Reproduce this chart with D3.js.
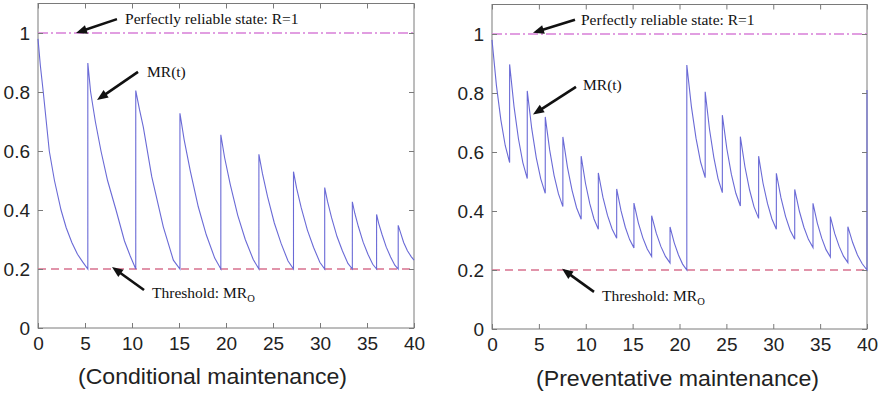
<!DOCTYPE html>
<html>
<head>
<meta charset="utf-8">
<script src="https://cdn.jsdelivr.net/npm/d3@7"></script>
<style>
  body { margin: 0; background: #fff; }
  svg { display: block; }
  .tick text { font-family: "Liberation Sans Narrow", "Arial Narrow", "Liberation Sans", Arial, sans-serif; font-size: 19px; fill: #222; }
  .note { font-family: "Liberation Serif", "Times New Roman", serif; font-size: 15.5px; fill: #111; }
  .title { font-family: "Liberation Sans", Arial, sans-serif; font-size: 22px; fill: #222; }
</style>
</head>
<body>
<div id="chart"></div>
<script>
// axis ticks
const xTicks = [0, 5, 10, 15, 20, 25, 30, 35, 40];
const yTicks = [0, 0.2, 0.4, 0.6, 0.8, 1];
const yTickLabels = ["0", "0.2", "0.4", "0.6", "0.8", "1"];

// reference levels
const reliableLevel = 1;
const thresholdLevel = 0.2;

const panelTitles = ["(Conditional maintenance)", "(Preventative maintenance)"];

// MR(t): [t, MR]
const conditionalMR = [
  [0, 0.98], [0.25, 0.89], [0.56, 0.8], [1.2, 0.6], [1.75, 0.5], [2.45, 0.4], [3.0, 0.34], [3.6, 0.29], [4.2, 0.25], [4.75, 0.224], [5.3, 0.2],
  [5.3, 0.898], [5.6, 0.8], [6.1, 0.7], [6.7, 0.6], [7.4, 0.5], [8.3, 0.4], [9.2, 0.295], [9.8, 0.245], [10.4, 0.2],
  [10.4, 0.805], [10.8, 0.74], [11.2, 0.682], [12.1, 0.513], [13.33, 0.343], [14.4, 0.23], [15.1, 0.2],
  [15.1, 0.728], [15.55, 0.638], [16.2, 0.533], [17.05, 0.411], [17.9, 0.316], [18.8, 0.237], [19.45, 0.2],
  [19.45, 0.655], [19.85, 0.578], [20.45, 0.487], [21.25, 0.382], [22.05, 0.3], [22.9, 0.232], [23.5, 0.2],
  [23.5, 0.589], [23.88, 0.523], [24.42, 0.445], [25.14, 0.356], [25.87, 0.286], [26.6, 0.227], [27.18, 0.2],
  [27.18, 0.53], [27.51, 0.474], [28.0, 0.408], [28.66, 0.332], [29.32, 0.273], [29.98, 0.223], [30.5, 0.2],
  [30.5, 0.476], [30.8, 0.429], [31.23, 0.374], [31.81, 0.31], [32.39, 0.261], [32.97, 0.219], [33.44, 0.2],
  [33.44, 0.428], [33.7, 0.389], [34.08, 0.344], [34.59, 0.291], [35.1, 0.25], [35.61, 0.216], [36.02, 0.2],
  [36.02, 0.385], [36.25, 0.354], [36.6, 0.317], [37.05, 0.274], [37.51, 0.241], [37.96, 0.213], [38.32, 0.2],
  [38.32, 0.348], [38.6, 0.32], [38.9, 0.29], [39.3, 0.262], [39.7, 0.242], [40, 0.23]
];

const preventiveMR = [
  [0, 0.98], [0.47, 0.826], [0.94, 0.71], [1.41, 0.622], [1.88, 0.564],
  [1.88, 0.897], [2.35, 0.754], [2.82, 0.645], [3.29, 0.564], [3.76, 0.51],
  [3.76, 0.807], [4.24, 0.679], [4.72, 0.581], [5.2, 0.509], [5.68, 0.46],
  [5.68, 0.719], [6.15, 0.607], [6.62, 0.521], [7.09, 0.458], [7.56, 0.415],
  [7.56, 0.651], [8.05, 0.548], [8.54, 0.47], [9.02, 0.411], [9.51, 0.372],
  [9.51, 0.586], [9.97, 0.494], [10.43, 0.425], [10.88, 0.373], [11.34, 0.338],
  [11.34, 0.529], [11.83, 0.447], [12.32, 0.385], [12.81, 0.339], [13.3, 0.308],
  [13.3, 0.475], [13.76, 0.401], [14.22, 0.345], [14.68, 0.303], [15.14, 0.275],
  [15.14, 0.427], [15.61, 0.36], [16.09, 0.309], [16.56, 0.271], [17.03, 0.246],
  [17.03, 0.384], [17.52, 0.325], [18.01, 0.28], [18.5, 0.246], [18.99, 0.224],
  [18.99, 0.346], [19.44, 0.292], [19.89, 0.251], [20.33, 0.22], [20.78, 0.2],
  [20.78, 0.895], [21.27, 0.754], [21.76, 0.647], [22.25, 0.566], [22.74, 0.513],
  [22.74, 0.804], [23.2, 0.677], [23.66, 0.582], [24.11, 0.51], [24.57, 0.462],
  [24.57, 0.725], [25.05, 0.611], [25.53, 0.525], [26.01, 0.46], [26.49, 0.417],
  [26.49, 0.652], [26.98, 0.55], [27.47, 0.472], [27.95, 0.414], [28.44, 0.375],
  [28.44, 0.586], [28.91, 0.494], [29.39, 0.425], [29.86, 0.373], [30.33, 0.338],
  [30.33, 0.528], [30.82, 0.445], [31.31, 0.382], [31.8, 0.335], [32.29, 0.304],
  [32.29, 0.473], [32.78, 0.4], [33.27, 0.345], [33.75, 0.304], [34.24, 0.276],
  [34.24, 0.426], [34.7, 0.359], [35.17, 0.308], [35.63, 0.269], [36.09, 0.244],
  [36.09, 0.381], [36.56, 0.323], [37.03, 0.28], [37.49, 0.247], [37.96, 0.225],
  [37.96, 0.347], [38.47, 0.293], [38.98, 0.251], [39.49, 0.221], [40, 0.2],
  [40, 0.81]
];

// annotation texts and anchors in data units: tail, head, text start
const noteTexts = ["Perfectly reliable state: R=1", "MR(t)", "Threshold: MR"];
const noteSub = "O";
const conditionalNotes = [
  { tail: [8.4, 1.047], head: [4.04, 1.0], text: [9.26, 1.03] },
  { tail: [10.64, 0.868], head: [6.28, 0.773], text: [11.6, 0.851] },
  { tail: [11.28, 0.129], head: [7.87, 0.207], text: [12.13, 0.102] }
];
const preventiveNotes = [
  { tail: [8.85, 1.048], head: [4.37, 1.004], text: [9.49, 1.032] },
  { tail: [8.96, 0.821], head: [4.37, 0.727], text: [9.71, 0.811] },
  { tail: [10.88, 0.126], head: [7.47, 0.204], text: [11.73, 0.096] }
];

const W = 880, H = 395;
const svg = d3.select("#chart").append("svg").attr("width", W).attr("height", H);

const panels = [
  { x0: 38, x1: 414, y0: 328, y1: 3.5, data: conditionalMR, notes: conditionalNotes,
    title: panelTitles[0], titleX: 212.5, titleY: 384, titleW: 269 },
  { x0: 492, x1: 867, y0: 329, y1: 4.5, data: preventiveMR, notes: preventiveNotes,
    title: panelTitles[1], titleX: 677.5, titleY: 386, titleW: 283 }
];

panels.forEach(function(p) {
  var x = d3.scaleLinear().domain([0, 40]).range([p.x0, p.x1]);
  var y = d3.scaleLinear().domain([0, 1.1]).range([p.y0, p.y1]);
  var g = svg.append("g");

  // frame
  g.append("rect")
    .attr("x", p.x0).attr("y", p.y1)
    .attr("width", p.x1 - p.x0).attr("height", p.y0 - p.y1)
    .attr("fill", "none").attr("stroke", "#7a7a7a").attr("stroke-width", 1);

  // reference lines
  g.append("line")
    .attr("x1", x(0)).attr("x2", x(40))
    .attr("y1", y(reliableLevel)).attr("y2", y(reliableLevel))
    .attr("stroke", "#d77fd7").attr("stroke-width", 1.3)
    .attr("stroke-dasharray", "10,3,2,3");
  g.append("line")
    .attr("x1", x(0)).attr("x2", x(40))
    .attr("y1", y(thresholdLevel)).attr("y2", y(thresholdLevel))
    .attr("stroke", "#d8728e").attr("stroke-width", 1.3)
    .attr("stroke-dasharray", "8,5");

  // MR(t)
  var line = d3.line()
    .x(function(d) { return x(d[0]); })
    .y(function(d) { return y(d[1]); });
  g.append("path")
    .datum(p.data)
    .attr("d", line)
    .attr("fill", "none")
    .attr("stroke", "#6a6ad6")
    .attr("stroke-width", 1.1);

  // axes, ticks pointing inward on all sides
  var ax = g.append("g").attr("transform", "translate(0," + p.y0 + ")")
    .call(d3.axisBottom(x).tickValues(xTicks).tickSizeInner(-5).tickSizeOuter(0).tickPadding(9));
  var ay = g.append("g").attr("transform", "translate(" + p.x0 + ",0)")
    .call(d3.axisLeft(y).tickValues(yTicks).tickSizeInner(-5).tickSizeOuter(0).tickPadding(8)
      .tickFormat(function(d, i) { return yTickLabels[i]; }));
  var at = g.append("g").attr("transform", "translate(0," + p.y1 + ")")
    .call(d3.axisTop(x).tickValues(xTicks).tickSizeInner(-5).tickSizeOuter(0).tickFormat(""));
  var ar = g.append("g").attr("transform", "translate(" + p.x1 + ",0)")
    .call(d3.axisRight(y).tickValues(yTicks).tickSizeInner(-5).tickSizeOuter(0).tickFormat(""));
  [ax, ay, at, ar].forEach(function(a) {
    a.select(".domain").remove();
    a.selectAll(".tick line").attr("stroke", "#7a7a7a");
    a.attr("font-family", null).attr("font-size", null);
  });

  // annotations
  p.notes.forEach(function(n, i) {
    var tx = x(n.tail[0]), ty = y(n.tail[1]);
    var hx = x(n.head[0]), hy = y(n.head[1]);
    var ang = Math.atan2(hy - ty, hx - tx);
    var len = 11, half = 4.5;
    var bx = hx - len * Math.cos(ang), by = hy - len * Math.sin(ang);
    g.append("line")
      .attr("x1", tx).attr("y1", ty)
      .attr("x2", hx - 6 * Math.cos(ang)).attr("y2", hy - 6 * Math.sin(ang))
      .attr("stroke", "#111").attr("stroke-width", 2.6);
    g.append("path")
      .attr("d", "M" + hx + "," + hy +
        "L" + (bx + half * Math.sin(ang)) + "," + (by - half * Math.cos(ang)) +
        "L" + (bx - half * Math.sin(ang)) + "," + (by + half * Math.cos(ang)) + "Z")
      .attr("fill", "#111");

    var t = g.append("text")
      .attr("class", "note")
      .attr("x", x(n.text[0]))
      .attr("y", y(n.text[1]))
      .text(noteTexts[i]);
    if (i === 2) {
      t.append("tspan")
        .attr("dy", 4)
        .attr("font-size", "10.5px")
        .text(noteSub);
    }
  });

  // panel title
  g.append("text")
    .attr("class", "title")
    .attr("x", p.titleX - p.titleW / 2)
    .attr("y", p.titleY)
    .attr("textLength", p.titleW)
    .attr("lengthAdjust", "spacingAndGlyphs")
    .text(p.title);
});
</script>
</body>
</html>
